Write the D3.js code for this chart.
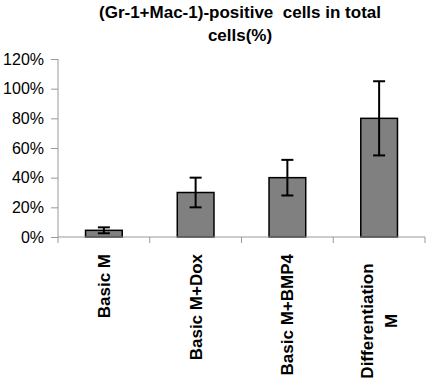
<!DOCTYPE html>
<html>
<head>
<meta charset="utf-8">
<script src="https://cdn.jsdelivr.net/npm/d3@7"></script>
<style>
  body { margin: 0; background: #fff; }
  svg text { font-family: "Liberation Sans", Arial, sans-serif; fill: #000; }
</style>
</head>
<body>
<div class="chart"></div>
<script>
// data
var categories = ["Basic M", "Basic M+Dox", "Basic M+BMP4", "Differentiation M"];
var labelLines = [["Basic M"], ["Basic M+Dox"], ["Basic M+BMP4"], ["Differentiation", "M"]];
var values = [0.045, 0.30, 0.40, 0.80];
var errors = [0.02, 0.10, 0.12, 0.25];
var yTicks = [0, 0.2, 0.4, 0.6, 0.8, 1.0, 1.2];

var W = 427, H = 386;
var plot = { left: 58, right: 425, top: 59, bottom: 237 };

var svg = d3.select(".chart")
    .append("svg")
    .attr("width", W)
    .attr("height", H);

// scales
var x = d3.scaleBand()
    .domain(categories)
    .range([plot.left, plot.right])
    .paddingInner(0.6)
    .paddingOuter(0.3);

var y = d3.scaleLinear()
    .domain([0, 1.2])
    .range([plot.bottom, plot.top]);

// title
var title = svg.append("text")
    .attr("text-anchor", "middle")
    .style("font-size", "17px")
    .style("font-weight", "bold");
title.append("tspan").attr("x", 240).attr("y", 18).text("(Gr-1+Mac-1)-positive\u00a0 cells in total");
title.append("tspan").attr("x", 240).attr("y", 41).text("cells(%)");

// y axis
var yAxis = svg.append("g")
    .attr("transform", "translate(" + plot.left + ",0)")
    .call(d3.axisLeft(y).tickValues(yTicks).tickFormat(d3.format(".0%")).tickSize(7).tickPadding(7));
yAxis.select(".domain").attr("stroke", "#999").attr("d", "M0," + plot.top + "V" + plot.bottom);
yAxis.selectAll(".tick line").attr("stroke", "#999");
yAxis.selectAll(".tick text").style("font-size", "16px").attr("fill", "#000");

// bars
svg.selectAll("rect.bar")
    .data(values)
    .enter().append("rect")
    .attr("class", "bar")
    .attr("x", function (d, i) { return x(categories[i]); })
    .attr("y", function (d) { return y(d); })
    .attr("width", x.bandwidth())
    .attr("height", function (d) { return plot.bottom - y(d); })
    .attr("fill", "#808080")
    .attr("stroke", "#000")
    .attr("stroke-width", 1.5);

// x axis line + category boundary ticks
svg.append("line")
    .attr("x1", plot.left).attr("x2", plot.right)
    .attr("y1", plot.bottom).attr("y2", plot.bottom)
    .attr("stroke", "#999");
for (var i = 0; i <= categories.length; i++) {
    var bx = plot.left + i * (plot.right - plot.left) / categories.length;
    svg.append("line")
        .attr("x1", bx).attr("x2", bx)
        .attr("y1", plot.bottom).attr("y2", plot.bottom + 6)
        .attr("stroke", "#999");
}

// error bars
var eb = svg.selectAll("g.err")
    .data(values)
    .enter().append("g")
    .attr("class", "err")
    .attr("stroke", "#000")
    .attr("stroke-width", 2);
eb.append("line")
    .attr("x1", function (d, i) { return x(categories[i]) + x.bandwidth() / 2; })
    .attr("x2", function (d, i) { return x(categories[i]) + x.bandwidth() / 2; })
    .attr("y1", function (d, i) { return y(d + errors[i]); })
    .attr("y2", function (d, i) { return y(d - errors[i]); });
[1, -1].forEach(function (s) {
    eb.append("line")
        .attr("x1", function (d, i) { return x(categories[i]) + x.bandwidth() / 2 - 6; })
        .attr("x2", function (d, i) { return x(categories[i]) + x.bandwidth() / 2 + 6; })
        .attr("y1", function (d, i) { return y(d + s * errors[i]); })
        .attr("y2", function (d, i) { return y(d + s * errors[i]); });
});

// rotated category labels
labelLines.forEach(function (lines, i) {
    var cx = x(categories[i]) + x.bandwidth() / 2;
    var n = lines.length;
    lines.forEach(function (t, j) {
        var bx = cx + 6 + (j - (n - 1) / 2) * 24;
        svg.append("text")
            .attr("transform", "translate(" + bx + "," + (n > 1 ? 382 : 254) + ") rotate(-90)")
            .attr("text-anchor", n > 1 ? "middle" : "end")
            .attr("x", n > 1 ? 122 / 2 : 0)
            .style("font-size", "17px")
            .style("font-weight", "bold")
            .text(t);
    });
});
</script>
</body>
</html>
